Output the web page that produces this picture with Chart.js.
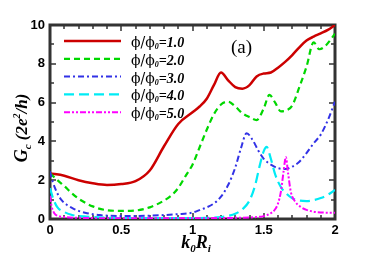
<!DOCTYPE html>
<html>
<head>
<meta charset="utf-8">
<script src="https://cdn.jsdelivr.net/npm/chart.js@4"></script>
<style>
  html, body { margin: 0; padding: 0; background: #fff; }
</style>
</head>
<body>
<canvas id="chart" width="382" height="256"></canvas>
<script>
// phi/phi0 values for each curve
const fluxLabels = ['1.0', '2.0', '3.0', '4.0', '5.0'];

const x1 = [0, 0.1, 0.2, 0.3, 0.4, 0.5, 0.6, 0.7, 0.8, 0.9, 1.0, 1.05, 1.1, 1.15, 1.2, 1.25, 1.3, 1.35, 1.4, 1.45, 1.5, 1.55, 1.6, 1.65, 1.7, 1.75, 1.8, 1.85, 1.9, 1.95, 2.0];
const y1 = [2.35, 2.23, 2.0, 1.84, 1.75, 1.8, 1.95, 2.5, 3.75, 4.9, 5.5, 5.8, 6.2, 6.9, 7.55, 7.15, 6.8, 6.72, 6.9, 7.35, 7.5, 7.55, 7.8, 8.1, 8.45, 8.85, 9.2, 9.4, 9.57, 9.75, 10.0];

const x2 = [0, 0.03, 0.06, 0.1, 0.15, 0.2, 0.3, 0.4, 0.5, 0.6, 0.7, 0.8, 0.85, 0.9, 0.95, 1.0, 1.05, 1.1, 1.15, 1.2, 1.25, 1.3, 1.35, 1.4, 1.45, 1.5, 1.54, 1.58, 1.62, 1.66, 1.7, 1.75, 1.8, 1.85, 1.89, 1.93, 1.97, 2.0];
const y2 = [2.35, 2.15, 1.95, 1.7, 1.35, 1.05, 0.65, 0.45, 0.42, 0.44, 0.6, 0.95, 1.2, 1.6, 2.2, 2.8, 3.7, 4.6, 5.4, 5.9, 6.05, 5.8, 5.45, 5.25, 5.1, 5.7, 6.4, 6.0, 5.55, 5.6, 5.85, 6.8, 7.85, 9.1, 8.75, 8.9, 9.25, 9.55];

const x3 = [0, 0.02, 0.05, 0.08, 0.12, 0.16, 0.2, 0.26, 0.35, 0.5, 0.7, 0.9, 1.0, 1.05, 1.1, 1.15, 1.2, 1.25, 1.3, 1.34, 1.38, 1.42, 1.46, 1.5, 1.55, 1.6, 1.65, 1.7, 1.75, 1.8, 1.85, 1.9, 1.95, 2.0];
const y3 = [2.45, 1.9, 1.35, 0.98, 0.72, 0.55, 0.42, 0.3, 0.2, 0.15, 0.17, 0.25, 0.33, 0.46, 0.6, 0.8, 1.15, 1.75, 2.65, 3.65, 4.42, 4.1, 3.55, 3.1, 2.8, 2.62, 2.58, 2.7, 2.95, 3.4, 3.9, 4.35, 5.1, 6.05];

const x4 = [0, 0.02, 0.05, 0.1, 0.15, 0.2, 0.3, 0.5, 0.8, 1.1, 1.2, 1.25, 1.3, 1.35, 1.4, 1.44, 1.47, 1.5, 1.52, 1.55, 1.58, 1.62, 1.66, 1.7, 1.75, 1.8, 1.85, 1.9, 1.95, 2.0];
const y4 = [1.6, 1.1, 0.62, 0.36, 0.22, 0.15, 0.1, 0.05, 0.04, 0.06, 0.1, 0.16, 0.27, 0.5, 0.95, 1.75, 2.7, 3.5, 3.72, 3.1, 2.3, 1.65, 1.3, 1.07, 0.95, 0.92, 0.97, 1.08, 1.25, 1.5];

const x5 = [0, 0.01, 0.03, 0.06, 0.1, 0.2, 0.5, 1.0, 1.3, 1.45, 1.5, 1.55, 1.58, 1.6, 1.62, 1.64, 1.655, 1.67, 1.69, 1.72, 1.76, 1.8, 1.85, 1.9, 2.0];
const y5 = [1.2, 0.7, 0.3, 0.15, 0.1, 0.06, 0.04, 0.04, 0.06, 0.1, 0.15, 0.3, 0.5, 0.8, 1.4, 2.5, 3.2, 2.4, 1.4, 0.9, 0.62, 0.47, 0.38, 0.34, 0.32];

const xTicks = [0, 0.5, 1, 1.5, 2];
const yTicks = [0, 2, 4, 6, 8, 10];

function pts(xs, ys) {
  return xs.map((x, i) => ({ x: x, y: ys[i] }));
}

const styles = [
  { color: 'rgb(204,0,0)', width: 2.5, dash: [] },
  { color: 'rgb(0,215,0)', width: 2.2, dash: [6, 4] },
  { color: 'rgb(50,50,230)', width: 2, dash: [6, 3, 2, 3] },
  { color: 'rgb(0,235,245)', width: 2.2, dash: [10, 5] },
  { color: 'rgb(255,0,255)', width: 2, dash: [6, 2, 2, 2, 2, 2] }
];
const series = [[x1, y1], [x2, y2], [x3, y3], [x4, y4], [x5, y5]];

const serif = '"Liberation Serif", "DejaVu Serif", serif';
const sans = '"Liberation Sans", Arial, sans-serif';

// draw a run of [text, size, dy] pieces, centred on cx
function drawRuns(c, runs, cx, y, style) {
  let w = 0;
  runs.forEach(p => { c.font = style + ' ' + p[1] + 'px ' + serif; w += c.measureText(p[0]).width; });
  let tx = cx - w / 2;
  runs.forEach(p => {
    c.font = style + ' ' + p[1] + 'px ' + serif;
    c.fillText(p[0], tx, y + p[2]);
    tx += c.measureText(p[0]).width;
  });
}

// box with inward ticks
const frame = {
  id: 'frame',
  beforeDatasetsDraw(chart) {
    const c = chart.ctx;
    const a = chart.chartArea;
    const xs = chart.scales.x, ys = chart.scales.y;
    const L = a.left, R = a.right, T = a.top, B = a.bottom;
    c.save();
    c.strokeStyle = '#333';
    c.lineWidth = 3;
    c.strokeRect(L, T, R - L, B - T);
    c.lineWidth = 1.5;
    c.beginPath();
    for (let i = 0; i <= 20; i++) {
      const px = Math.round(xs.getPixelForValue(i / 10));
      const len = (i % 5 === 0) ? 6 : 4;
      c.moveTo(px, B); c.lineTo(px, B - len);
      c.moveTo(px, T); c.lineTo(px, T + len);
    }
    for (let i = 0; i <= 10; i++) {
      const py = Math.round(ys.getPixelForValue(i));
      const len = (i % 2 === 0) ? 6 : 4;
      c.moveTo(L, py); c.lineTo(L + len, py);
      c.moveTo(R, py); c.lineTo(R - len, py);
    }
    c.stroke();
    c.restore();
  }
};

// tick labels, legend and axis titles
const decor = {
  id: 'decor',
  afterDraw(chart) {
    const c = chart.ctx;
    const a = chart.chartArea;
    const xs = chart.scales.x, ys = chart.scales.y;
    c.save();
    c.fillStyle = '#000';
    c.font = 'bold 13px ' + sans;
    c.textAlign = 'center';
    c.textBaseline = 'top';
    xTicks.forEach(v => c.fillText(String(v), xs.getPixelForValue(v), a.bottom + 5));
    c.textAlign = 'right';
    c.textBaseline = 'middle';
    yTicks.forEach(v => c.fillText(String(v), a.left - 5, ys.getPixelForValue(v)));

    // legend
    c.textAlign = 'left';
    c.textBaseline = 'alphabetic';
    fluxLabels.forEach((lab, i) => {
      const y = 41 + i * 17.8;
      const st = styles[i];
      c.strokeStyle = st.color;
      c.lineWidth = st.width;
      c.setLineDash(st.dash);
      c.beginPath();
      c.moveTo(64, y); c.lineTo(121, y);
      c.stroke();
      c.setLineDash([]);
      c.fillStyle = '#000';
      const base = y + 6;
      let tx = 131;
      c.font = '14px "DejaVu Serif", serif';
      c.fillText('ϕ/ϕ', tx, base);
      tx += c.measureText('ϕ/ϕ').width;
      c.font = 'italic bold 8px ' + serif;
      c.fillText('0', tx, base + 2);
      tx += c.measureText('0').width;
      c.font = 'italic bold 14px ' + serif;
      c.fillText('=' + lab, tx, base);
    });

    c.font = '19px ' + serif;
    c.fillText('(a)', 231, 53);

    // x title
    drawRuns(c, [['k', 18, 0], ['0', 11, 4], ['R', 18, 0], ['i', 11, 4]], 196, 248, 'italic bold');

    // y title
    c.translate(27, 128);
    c.rotate(-Math.PI / 2);
    drawRuns(c, [['G', 18, 0], ['c', 11, 4], [' (2e', 17, 0], ['2', 10, -7], ['/h)', 17, 0]], 0, 0, 'italic bold');
    c.restore();
  }
};

new Chart(document.getElementById('chart'), {
  type: 'line',
  data: {
    datasets: series.map((s, i) => ({
      label: fluxLabels[i],
      data: pts(s[0], s[1]),
      borderColor: styles[i].color,
      borderWidth: styles[i].width,
      borderDash: styles[i].dash,
      pointRadius: 0,
      fill: false,
      cubicInterpolationMode: 'monotone'
    })).reverse()
  },
  options: {
    responsive: false,
    animation: false,
    layout: { padding: { top: 25, right: 47, left: 50, bottom: 37 } },
    plugins: { legend: { display: false }, tooltip: { enabled: false } },
    scales: {
      x: { type: 'linear', min: 0, max: 2, display: false },
      y: { min: 0, max: 10, display: false }
    }
  },
  plugins: [frame, decor]
});
</script>
</body>
</html>
